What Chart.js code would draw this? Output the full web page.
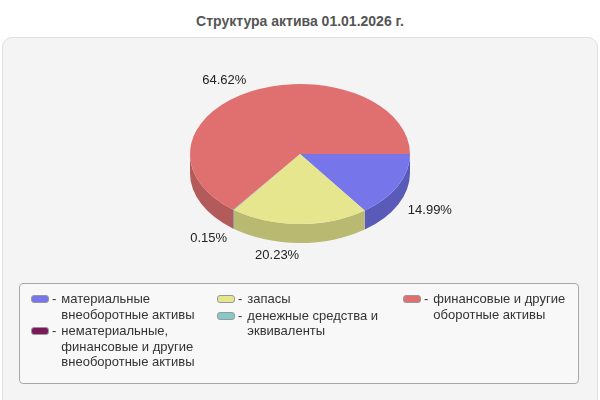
<!DOCTYPE html>
<html>
<head>
<meta charset="utf-8">
<script src="https://cdn.jsdelivr.net/npm/chart.js@4/dist/chart.umd.min.js"></script>
<style>
  html, body { margin: 0; padding: 0; background: #fff; }
  body { width: 600px; height: 400px; position: relative; overflow: hidden; font-family: "Liberation Sans", Arial, sans-serif; }
  #title { position: absolute; left: 0; top: 13px; width: 600px; text-align: center; font-weight: bold; font-size: 14px; color: #555; }
  #panel { position: absolute; left: 2px; top: 37px; width: 594px; height: 370px; background: #f4f4f4; border: 1px solid #e0e0e0; border-radius: 10px; }
  #chart { position: absolute; left: 0; top: 0; }
  #legend { position: absolute; left: 19px; top: 283px; width: 558px; height: 99px; background: #f8f8f8; border: 1px solid #a8a8a8; border-radius: 4px; }
  .col { position: absolute; top: 7px; width: 186px; }
  .item { display: flex; align-items: flex-start; font-size: 13px; line-height: 15.5px; color: #333; margin-bottom: 1px; }
  .swatch { width: 16px; height: 6px; border: 1px solid #999; border-radius: 3px; margin-top: 4px; flex: none; }
  .dash { margin: 0 5px 0 3px; flex: none; }
  .txt { width: 150px; }
</style>
</head>
<body>
<div id="title">Структура актива 01.01.2026 г.</div>
<div id="panel"></div>
<canvas id="chart" width="600" height="400"></canvas>
<div id="legend"></div>
<script>
// --- Data ---
const categories = [
  'материальные внеоборотные активы',
  'нематериальные, финансовые и другие внеоборотные активы',
  'запасы',
  'денежные средства и эквиваленты',
  'финансовые и другие оборотные активы'
];
const shares = [14.99, 0, 20.23, 0.15, 64.62];
const topColors = ['#7676ea', '#7a1a5a', '#e6e68e', '#88c8c8', '#e07070'];
const sideColors = ['#5a5ab8', '#5a1042', '#b9b972', '#68a0a0', '#b35a5a'];
const legendColumns = [[0, 1], [2, 3], [4]];

const TILT = 70 / 110;
const DEPTH = 19;

// --- 3D pie plugin: squash the pie, draw the side wall and labels ---
const pie3d = {
    id: 'pie3d',
    beforeDatasetsDraw(chart) {
        const ctx = chart.ctx;
        const arcs = chart.getDatasetMeta(0).data;
        const { x, y, outerRadius: r } = arcs[0];
        const ry = r * TILT;

        // side wall, only the front half (angles 0..PI) is visible
        arcs.forEach((arc, i) => {
            [0, 2 * Math.PI].forEach(off => {
                let a = Math.max(arc.startAngle, off);
                let b = Math.min(arc.endAngle, off + Math.PI);
                if (b <= a) return;
                if (b - a < 0.01) b = a + 0.01; // keep a hairline slice visible
                ctx.beginPath();
                ctx.ellipse(x, y, r, ry, 0, a, b);
                ctx.lineTo(x + r * Math.cos(b), y + ry * Math.sin(b) + DEPTH);
                ctx.ellipse(x, y + DEPTH, r, ry, 0, b, a, true);
                ctx.closePath();
                ctx.fillStyle = sideColors[i];
                ctx.fill();
            });
        });

        ctx.save();
        ctx.translate(x, y);
        ctx.scale(1, TILT);
        ctx.translate(-x, -y);
    },
    afterDatasetsDraw(chart) {
        const ctx = chart.ctx;
        ctx.restore();

        const arcs = chart.getDatasetMeta(0).data;
        ctx.font = '13px "Liberation Sans", Arial, sans-serif';
        ctx.fillStyle = '#222';
        ctx.textBaseline = 'middle';
        arcs.forEach((arc, i) => {
            if (!shares[i]) return;
            const mid = (arc.startAngle + arc.endAngle) / 2;
            const c = Math.cos(mid), s = Math.sin(mid);
            const lx = arc.x + arc.outerRadius * 1.1 * c;
            const ly = arc.y + arc.outerRadius * TILT * 1.18 * s + (s > 0 ? DEPTH : 0);
            ctx.textAlign = c < 0 ? 'right' : 'left';
            ctx.fillText(shares[i].toFixed(2) + '%', lx, ly);
        });
    }
};

new Chart(document.getElementById('chart'), {
    type: 'pie',
    data: {
        labels: categories,
        datasets: [{
            data: shares,
            backgroundColor: topColors,
            borderWidth: 0
        }]
    },
    options: {
        responsive: false,
        animation: false,
        devicePixelRatio: 1,
        events: [],
        rotation: 90,
        layout: { padding: { left: 190, right: 190, top: 44, bottom: 136 } },
        plugins: {
            legend: { display: false },
            tooltip: { enabled: false }
        }
    },
    plugins: [pie3d]
});

// --- HTML legend ---
const legend = document.getElementById('legend');
legendColumns.forEach((idxs, c) => {
    const col = document.createElement('div');
    col.className = 'col';
    col.style.left = (11 + c * 186) + 'px';
    idxs.forEach(i => {
        const item = document.createElement('div');
        item.className = 'item';
        item.innerHTML = `<span class="swatch" style="background:${topColors[i]}"></span>` +
            `<span class="dash">-</span><span class="txt">${categories[i]}</span>`;
        col.appendChild(item);
    });
    legend.appendChild(col);
});
</script>
</body>
</html>
